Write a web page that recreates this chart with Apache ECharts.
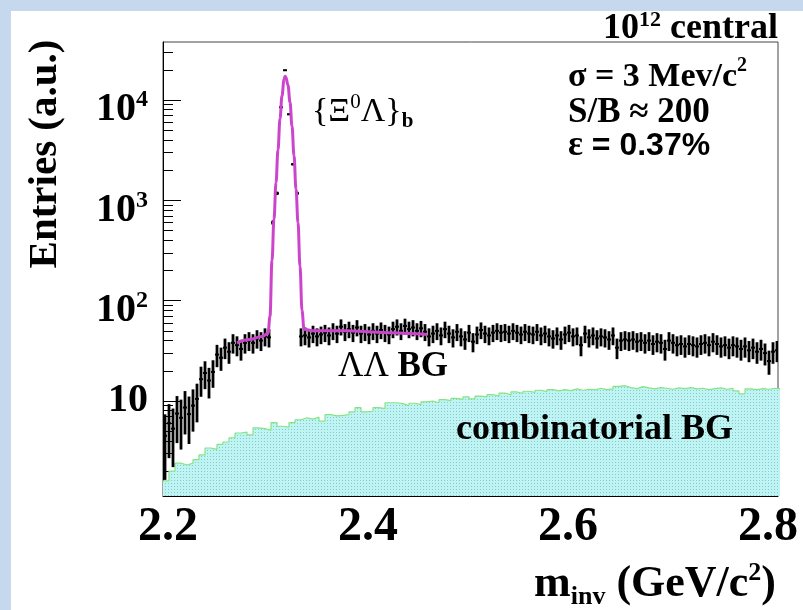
<!DOCTYPE html>
<html><head><meta charset="utf-8">
<script src="https://cdn.jsdelivr.net/npm/echarts@6/dist/echarts.min.js"></script>
<style>html,body{margin:0;padding:0;background:#fff}#c{width:803px;height:610px}</style>
</head><body><div id="c"></div>
<script>
// ---------- data ----------
const xMin = 2.195, xMax = 2.81;
const xMajorTicks = [2.2, 2.4, 2.6, 2.8];
const xMinorTicks = [2.25, 2.3, 2.35, 2.45, 2.5, 2.55, 2.65, 2.7, 2.75];
const yMin = 1.13, yMax = 37850;
const yMajorTicks = [10, 100, 1000, 10000];
const yMinorTicks = [2,3,4,5,6,7,8,9,20,30,40,50,60,70,80,90,200,300,400,500,600,700,800,900,2000,3000,4000,5000,6000,7000,8000,9000,20000,30000];

// Lambda-Lambda background + signal histogram (bin width 4 MeV)
const llBinStart = 2.195, llBinWidth = 0.004;
const llCounts = [4.5,6.0,5.3,7.5,6.8,8.6,7.4,9.0,10.5,16.5,19.0,16.0,19.5,29,27,34,31,38,36,33,38,40,38,42,40,44,43,
  600,1175,8460,19800,7200,2290,1175,
  44,45,43,47,44,46,48,45,50,47,
  55,49,52,48,54,47,49,46,50,47,
  51,48,46,52,55,50,56,52,54,50,
  53,49,44,47,50,45,52,47,43,49,
  44,41,48,39,46,51,47,45,48,50,
  48,49,47,50,48,46,49,47,46,49,
  45,47,44,42,45,41,46,48,44,45,
  36,47,43,45,42,44,43,41,45,34,
  40,41,40,41,39,40,38,40,37,39,
  38,33,40,38,36,37,35,37,36,35,
  37,38,36,39,37,35,36,34,36,35,
  33,35,32,34,31,33,30,25,31,32];
const llErrScale = 1.35;

// combinatorial background histogram (bin width 6 MeV)
const combBinStart = 2.195, combBinWidth = 0.006;
const combCounts = [1.6,2.0,2.4,2.3,2.4,2.6,2.9,3.4,3.3,3.7,
  3.9,4.3,4.8,4.9,4.6,5.4,5.3,5.1,6.1,5.6,
  5.5,6.1,6.5,6.8,6.6,6.9,6.3,7.3,7.1,7.2,
  7.3,7.8,8.6,7.8,7.9,8.6,8.4,9.6,9.6,9.4,
  9.0,9.5,9.2,9.8,10.0,9.6,10.3,10.1,10.6,10.4,
  11.0,10.5,11.2,11.0,11.6,11.2,12.0,11.5,12.3,11.9,
  12.5,12.2,12.8,12.4,13.0,12.6,13.0,12.7,13.2,12.8,
  13.1,12.9,13.4,13.0,13.2,14.0,14.2,13.6,13.3,13.9,
  13.5,13.2,13.6,13.4,13.1,13.5,13.3,13.6,13.2,13.4,
  13.0,13.3,13.5,13.1,13.4,12.6,11.8,13.2,13.0,13.3,
  13.1,13.4,13.2];

// fit curve
const fitMass = [2.269,2.282,2.294,2.300,2.302,2.304,2.306,2.308,2.310,2.312,2.314,2.316,2.317,2.318,2.320,2.322,2.324,2.326,2.328,2.330,2.332,2.334,2.336,2.345,2.360,2.380,2.400,2.420,2.440,2.459];
const fitValues = [38,41,44,47,70,250,650,1500,3200,6500,11000,16000,17200,16800,14000,9500,5500,2800,1300,600,220,80,52,50,50,50,49,48,47,46];

// ---------- chart ----------
const SERIF = '"Liberation Serif", "Times New Roman", serif';
const SANS = '"Liberation Sans", Arial, sans-serif';
const L = Math.log10;

const pc = document.createElement('canvas'); pc.width = 3; pc.height = 3;
const g = pc.getContext('2d');
g.fillStyle = '#bff4f4'; g.fillRect(0, 0, 3, 3);
g.fillStyle = '#8cc6c6'; g.fillRect(0, 0, 1, 1);

const llData = llCounts.map((v, i) => [llBinStart + llBinWidth * (i + 0.5), L(v), v, llErrScale * Math.sqrt(v)]);
const combData = combCounts.map((v, j) => [combBinStart + combBinWidth * j, L(v)]);
combData.push([combBinStart + combBinWidth * combCounts.length, L(combCounts[combCounts.length - 1])]);
const fitData = fitMass.map((m, k) => [m, L(fitValues[k])]);

const chart = echarts.init(document.getElementById('c'), null, {renderer: 'canvas'});

const yRich = {
  p: {fontFamily: SERIF, fontWeight: 'bold', fontSize: 40, lineHeight: 44, color: '#000'},
  m: {fontFamily: SERIF, fontWeight: 'bold', fontSize: 40, lineHeight: 44, padding: [12, 0, 0, 0], color: '#000', verticalAlign: 'top'},
  s: {fontFamily: SERIF, fontWeight: 'bold', fontSize: 24, lineHeight: 24, padding: [10, 0, 0, 0], color: '#000', verticalAlign: 'top'}
};

chart.setOption({
  animation: false,
  backgroundColor: '#fff',
  grid: {left: 163, right: 25, top: 42, bottom: 114, show: true, borderColor: '#444', borderWidth: 1, backgroundColor: 'transparent'},
  xAxis: [{
    type: 'value', min: xMin, max: xMax, position: 'bottom',
    axisLine: {show: true, lineStyle: {color: '#000', width: 1}},
    axisTick: {show: true, inside: true, length: 13, customValues: xMajorTicks, lineStyle: {color: '#000'}},
    axisLabel: {show: true, customValues: xMajorTicks, margin: 8, formatter: v => v.toFixed(1),
      fontFamily: SERIF, fontWeight: 'bold', fontSize: 48, color: '#000'},
    splitLine: {show: false}
  }, {
    type: 'value', min: xMin, max: xMax, position: 'bottom',
    axisLine: {show: false},
    axisTick: {show: true, inside: true, length: 6, customValues: xMinorTicks, lineStyle: {color: '#000'}},
    axisLabel: {show: false, customValues: xMinorTicks},
    splitLine: {show: false}
  }],
  yAxis: [{
    type: 'value', min: L(yMin), max: L(yMax), position: 'left',
    axisLine: {show: true, lineStyle: {color: '#000', width: 1}},
    axisTick: {show: true, inside: true, length: 18, customValues: yMajorTicks.map(L), lineStyle: {color: '#000'}},
    axisLabel: {show: true, customValues: yMajorTicks.map(L), margin: 15,
      formatter: v => { const n = Math.round(v); return n === 1 ? '{p|10}' : '{m|10}{s|' + n + '}'; },
      rich: yRich},
    splitLine: {show: false}
  }, {
    type: 'value', min: L(yMin), max: L(yMax), position: 'left',
    axisLine: {show: false},
    axisTick: {show: true, inside: true, length: 10, customValues: yMinorTicks.map(L), lineStyle: {color: '#000'}},
    axisLabel: {show: false, customValues: yMinorTicks.map(L)},
    splitLine: {show: false}
  }],
  series: [{
    type: 'line', name: 'combinatorial BG', data: combData, step: 'end', symbol: 'none',
    lineStyle: {color: '#86e486', width: 1.2},
    areaStyle: {origin: 'start', color: {image: pc, repeat: 'repeat'}, opacity: 1},
    z: 1, silent: true
  }, {
    type: 'custom', name: 'LL BG', data: llData, clip: true, z: 3,
    encode: {x: 0, y: 1},
    renderItem: (params, api) => {
      const x = api.value(0), v = api.value(2), e = api.value(3);
      const pc0 = api.coord([x, L(v)]);
      const yt = api.coord([x, L(v + e)])[1];
      const yb = api.coord([x, L(Math.max(v - e, 0.5))])[1];
      const xl = api.coord([x - llBinWidth / 2, L(v)])[0];
      const xr = api.coord([x + llBinWidth / 2, L(v)])[0];
      return {type: 'group', children: [
        {type: 'line', shape: {x1: xl, y1: pc0[1], x2: xr, y2: pc0[1]}, style: {stroke: '#000', lineWidth: 2}},
        {type: 'line', shape: {x1: pc0[0], y1: yt, x2: pc0[0], y2: yb}, style: {stroke: '#000', lineWidth: 2.8}}
      ]};
    }
  }, {
    type: 'line', name: 'fit', data: fitData, symbol: 'none', smooth: 0.4, smoothMonotone: 'x',
    lineStyle: {color: '#cc44cc', width: 3}, z: 4
  }],
  graphic: [
    {type: 'rect', shape: {x: 0, y: 0, width: 11, height: 610}, style: {fill: '#c6d8ee'}, z: 100},
    {type: 'rect', shape: {x: 0, y: 0, width: 803, height: 11}, style: {fill: '#c6d8ee'}, z: 100},
    {type: 'text', x: 45, y: 154, rotation: Math.PI / 2, z: 100,
      style: {text: 'Entries (a.u.)', font: 'bold 41px ' + SERIF, fill: '#000', align: 'center', verticalAlign: 'middle'}},
    {type: 'text', x: 776, y: 585, z: 100,
      style: {text: '{m|m}{sub|inv}{m| (GeV/c}{sup|2}{m|)}', align: 'right', verticalAlign: 'middle',
        rich: {
          m: {fontFamily: SERIF, fontWeight: 'bold', fontSize: 44, lineHeight: 50, fill: '#000', verticalAlign: 'middle'},
          sub: {fontFamily: SERIF, fontWeight: 'bold', fontSize: 26, lineHeight: 26, fill: '#000', verticalAlign: 'bottom'},
          sup: {fontFamily: SERIF, fontWeight: 'bold', fontSize: 26, lineHeight: 26, fill: '#000', verticalAlign: 'top'}
        }}},
    {type: 'text', x: 778, y: 28, z: 100,
      style: {text: '{m|10}{sup|12}{m| central}', align: 'right', verticalAlign: 'middle',
        rich: {
          m: {fontFamily: SERIF, fontWeight: 'bold', fontSize: 36, lineHeight: 38, fill: '#000', verticalAlign: 'bottom'},
          sup: {fontFamily: SERIF, fontWeight: 'bold', fontSize: 22, lineHeight: 22, fill: '#000', verticalAlign: 'top'}
        }}},
    {type: 'text', x: 568, y: 75, z: 100,
      style: {text: '{m|σ = 3 Mev/c}{sup|2}', align: 'left', verticalAlign: 'middle',
        rich: {
          m: {fontFamily: SERIF, fontWeight: 'bold', fontSize: 34, lineHeight: 38, fill: '#000', verticalAlign: 'bottom'},
          sup: {fontFamily: SERIF, fontWeight: 'bold', fontSize: 20, lineHeight: 20, fill: '#000', verticalAlign: 'top'}
        }}},
    {type: 'text', x: 568, y: 113, z: 100,
      style: {text: 'S/B ≈ 200', font: 'bold 35px ' + SERIF, fill: '#000', align: 'left', verticalAlign: 'middle'}},
    {type: 'text', x: 568, y: 146, z: 100,
      style: {text: '{e|ε}{m| = 0.37%}', align: 'left', verticalAlign: 'middle',
        rich: {
          e: {fontFamily: SERIF, fontWeight: 'bold', fontSize: 35, fill: '#000'},
          m: {fontFamily: SANS, fontWeight: 'bold', fontSize: 32, fill: '#000'}
        }}},
    {type: 'text', x: 312, y: 112, z: 100,
      style: {text: '{m|{Ξ}{sup|0}{m|Λ}}{sub|b}', align: 'left', verticalAlign: 'middle',
        font: '34px ' + SERIF, fill: '#000', lineHeight: 40,
        rich: {
          m: {fontFamily: SERIF, fontSize: 34, lineHeight: 40, fill: '#000', verticalAlign: 'middle'},
          sup: {fontFamily: SERIF, fontSize: 21, lineHeight: 21, fill: '#000', verticalAlign: 'top'},
          sub: {fontFamily: SERIF, fontWeight: 'bold', fontSize: 21, lineHeight: 21, fill: '#000', verticalAlign: 'bottom'}
        }}},
    {type: 'text', x: 338, y: 367, z: 100,
      style: {text: '{a|ΛΛ}{b| BG}', align: 'left', verticalAlign: 'middle',
        rich: {
          a: {fontFamily: SERIF, fontSize: 35, fill: '#000'},
          b: {fontFamily: SERIF, fontWeight: 'bold', fontSize: 35, fill: '#000'}
        }}},
    {type: 'text', x: 456, y: 430, z: 100,
      style: {text: 'combinatorial BG', font: 'bold 36px ' + SERIF, fill: '#000', align: 'left', verticalAlign: 'middle'}}
  ]
});
</script>
</body></html>
